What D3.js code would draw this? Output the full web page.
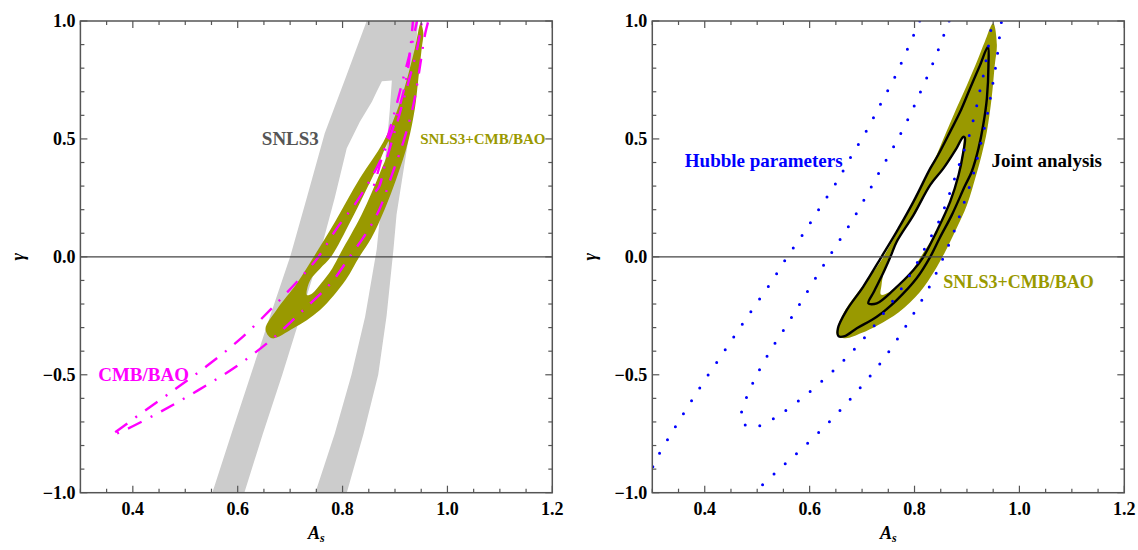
<!DOCTYPE html>
<html>
<head>
<meta charset="utf-8">
<script src="https://cdn.jsdelivr.net/npm/d3@7"></script>
<style>
body{margin:0;background:#fff}
svg text{font-family:"Liberation Serif","DejaVu Serif","Noto Serif","Times New Roman",Times,serif;font-weight:bold}
</style>
</head>
<body>
<svg id="chart"></svg>
<script>
// ---- data (A_s, gamma) ----
const xMajor = [0.4, 0.6, 0.8, 1.0, 1.2]
const xMinor = d3.range(0.3, 1.2001, 0.05)
const yMajor = [-1.0, -0.5, 0.0, 0.5, 1.0]
const yMinor = d3.range(-1.0, 1.0001, 0.1)

// SNLS3 (grey band, outer contour with a hole)
const snlsOuter = [[0.543,-1.06],[0.5516,-1.0],[0.588,-0.75],[0.625,-0.5],[0.662,-0.25],[0.70,0.0],[0.733,0.26],[0.766,0.524],[0.806,0.76],[0.846,1.0],[0.856,1.06],
    [0.948,1.06],[0.944,1.0],[0.935,0.75],[0.925,0.49],[0.903,0.18],[0.897,0.03],[0.884,-0.25],[0.868,-0.5],[0.84,-0.75],[0.808,-1.0],[0.80,-1.06]]
const snlsHole = [[0.604,-1.06],[0.6127,-1.0],[0.648,-0.75],[0.685,-0.5],[0.72,-0.25],[0.755,0.0],[0.785,0.25],[0.808,0.46],[0.833,0.573],[0.856,0.658],[0.865,0.70],[0.875,0.745],
    [0.894,0.748],[0.89,0.62],[0.885,0.5],[0.875,0.25],[0.865,0.03],[0.843,-0.254],[0.817,-0.5],[0.785,-0.75],[0.748,-1.0],[0.741,-1.06]]

// SNLS3+CMB/BAO, left panel
const comboLeftOuter = [[0.665,-0.345],[0.653,-0.306],[0.674,-0.225],[0.713,-0.112],[0.745,0.0],[0.786,0.15],[0.833,0.333],[0.878,0.488],[0.91,0.658],[0.938,0.884],[0.949,0.99],
    [0.954,0.95],[0.951,0.884],[0.944,0.743],[0.938,0.63],[0.925,0.488],[0.903,0.333],[0.88,0.2],[0.855,0.08],[0.832,0.0],[0.806,-0.098],[0.757,-0.225],[0.706,-0.303]]
const comboLeftHole = [[0.732,-0.162],[0.738,-0.10],[0.757,-0.05],[0.778,0.0],[0.815,0.15],[0.842,0.27],[0.866,0.38],[0.879,0.45],[0.888,0.49],
    [0.886,0.44],[0.872,0.36],[0.855,0.27],[0.836,0.177],[0.815,0.09],[0.797,0.02],[0.78,-0.05],[0.76,-0.11],[0.742,-0.155]]

// CMB/BAO contours (dash-dot)
const cmbOuter = [[0.935,1.02],[0.925,0.8],[0.913,0.672],[0.894,0.531],[0.871,0.403],[0.827,0.234],[0.789,0.121],[0.754,0.0],[0.719,-0.091],[0.662,-0.225],[0.604,-0.35],[0.541,-0.463],[0.474,-0.572],[0.41,-0.673],[0.375,-0.73],[0.36,-0.755],
    [0.385,-0.734],[0.455,-0.654],[0.525,-0.565],[0.595,-0.468],[0.662,-0.355],[0.722,-0.232],[0.779,-0.108],[0.812,-0.005],[0.845,0.1],[0.87,0.2],[0.894,0.347],[0.916,0.488],[0.935,0.644],[0.948,0.813],[0.957,0.94],[0.966,1.02]]
const cmbInner = [[0.944,1.02],[0.93,0.88],[0.915,0.75],[0.90,0.62],[0.885,0.5],[0.87,0.38],[0.858,0.272],
    [0.868,0.29],[0.882,0.4],[0.898,0.52],[0.913,0.64],[0.928,0.76],[0.942,0.88],[0.953,1.02]]

// SNLS3+CMB/BAO, right panel
const comboRightOuter = [[0.668,-0.345],[0.652,-0.33],[0.653,-0.30],[0.668,-0.225],[0.700,-0.127],[0.733,-0.027],[0.766,0.1],[0.798,0.23],[0.828,0.37],[0.842,0.432],[0.861,0.531],[0.88,0.63],[0.9,0.729],[0.919,0.828],[0.934,0.912],[0.950,0.99],
    [0.957,0.9],[0.953,0.813],[0.947,0.672],[0.938,0.531],[0.928,0.432],[0.918,0.35],[0.90,0.22],[0.88,0.12],[0.858,0.02],[0.838,-0.06],[0.81,-0.15],[0.77,-0.235],[0.73,-0.29],[0.70,-0.322]]
const comboRightHole = [[0.893,0.505],[0.878,0.455],[0.855,0.375],[0.83,0.305],[0.798,0.177],[0.766,0.064],[0.752,0.0],[0.742,-0.06],[0.737,-0.12],[0.736,-0.16],
    [0.752,-0.15],[0.772,-0.12],[0.795,-0.06],[0.812,0.0],[0.842,0.107],[0.868,0.234],[0.884,0.347],[0.891,0.44]]

// joint analysis (black)
const jointOuter = [[0.654,-0.303],[0.655,-0.336],[0.667,-0.336],[0.69,-0.303],[0.728,-0.254],[0.766,-0.183],[0.804,-0.091],[0.830,0.0],[0.848,0.08],[0.871,0.177],[0.896,0.30],[0.909,0.361],[0.922,0.46],[0.931,0.559],[0.938,0.672],[0.941,0.813],[0.94,0.891],
    [0.925,0.813],[0.906,0.715],[0.887,0.615],[0.868,0.531],[0.845,0.432],[0.830,0.375],[0.798,0.234],[0.766,0.107],[0.737,0.0],[0.702,-0.127],[0.671,-0.225]]
const jointInner = [[0.893,0.509],[0.88,0.46],[0.855,0.375],[0.83,0.305],[0.798,0.177],[0.766,0.064],[0.754,0.0],[0.740,-0.07],[0.722,-0.15],[0.712,-0.197],
    [0.728,-0.197],[0.760,-0.14],[0.798,-0.056],[0.817,0.0],[0.842,0.107],[0.868,0.234],[0.884,0.347],[0.892,0.432],[0.896,0.505]]

// Hubble parameters (blue dotted)
const hubbleOuterLeft = [[0.29,-0.95],[0.307,-0.861],[0.336,-0.75],[0.366,-0.642],[0.397,-0.533],[0.429,-0.427],[0.461,-0.321],[0.493,-0.216],[0.526,-0.11],[0.556,-0.004],[0.589,0.102],[0.62,0.21],[0.652,0.319],[0.68,0.429],[0.71,0.541],[0.736,0.651],[0.763,0.765],[0.787,0.883],[0.81,1.0]]
const hubbleOuterRight = [[0.489,-1.01],[0.535,-0.915],[0.577,-0.83],[0.619,-0.741],[0.659,-0.649],[0.697,-0.553],[0.734,-0.454],[0.767,-0.35],[0.798,-0.242],[0.827,-0.132],[0.852,-0.018],[0.874,0.1],[0.893,0.22],[0.912,0.35],[0.925,0.467],[0.938,0.594],[0.948,0.717],[0.957,0.84],[0.964,0.969],[0.966,1.0]]
const hubbleInner = [[0.866,1.0],[0.856,0.941],[0.835,0.82],[0.812,0.703],[0.788,0.586],[0.762,0.474],[0.734,0.364],[0.706,0.25],[0.677,0.139],[0.646,0.032],[0.615,-0.077],[0.585,-0.186],[0.555,-0.294],[0.524,-0.402],[0.496,-0.515],[0.474,-0.631],[0.469,-0.695],[0.49,-0.724],[0.517,-0.703],
    [0.542,-0.671],[0.587,-0.596],[0.631,-0.512],[0.672,-0.423],[0.71,-0.328],[0.746,-0.225],[0.779,-0.121],[0.808,-0.013],[0.823,0.05],[0.849,0.163],[0.868,0.276],[0.885,0.39],[0.896,0.46],[0.905,0.519],[0.912,0.58],[0.919,0.644],[0.925,0.707],[0.931,0.767],[0.94,0.88],[0.947,0.983],[0.948,1.0]]

// ---- drawing ----
const width = 1138, height = 550
const fontFam = '"Liberation Serif","DejaVu Serif","Noto Serif","Times New Roman",Times,serif'
const svg = d3.select('#chart').attr('width', width).attr('height', height)
    .attr('font-family', fontFam).attr('font-weight', 'bold')

const olive = '#999900'
const panelTop = 21, panelBottom = 492.7

function makePanel(id, left, right){
    const x = d3.scaleLinear().domain([0.3, 1.2]).range([left, right])
    const y = d3.scaleLinear().domain([-1, 1]).range([panelBottom, panelTop])
    const g = svg.append('g')
    g.append('clipPath').attr('id', id)
        .append('rect').attr('x', left).attr('y', panelTop).attr('width', right-left).attr('height', panelBottom-panelTop)
    const plot = g.append('g').attr('clip-path', `url(#${id})`)
    return {x, y, g, plot}
}

function ring(p, pts, curve){
    return d3.line().x(d=>p.x(d[0])).y(d=>p.y(d[1])).curve(curve)(pts)
}
const closedCurve = d3.curveCatmullRomClosed.alpha(0.5)
const openCurve = d3.curveCatmullRom.alpha(0.5)

function frame(p){
    const [x0, x1] = p.x.range(), [y0, y1] = p.y.range()
    // zero line
    p.g.append('line').attr('x1', x0).attr('x2', x1).attr('y1', p.y(0)).attr('y2', p.y(0))
        .attr('stroke', '#444').attr('stroke-width', 1.2)
    const ax = p.g.append('g').attr('stroke', '#555').attr('stroke-width', 1.2)
    ax.append('rect').attr('x', x0).attr('y', y1).attr('width', x1-x0).attr('height', y0-y1)
        .attr('fill', 'none').attr('stroke-width', 1.5)
    const isMajor = (v, arr) => arr.some(m => Math.abs(m-v) < 1e-6)
    xMinor.forEach(v=>{
        const len = isMajor(v, xMajor) ? 7 : 4
        ax.append('line').attr('x1', p.x(v)).attr('x2', p.x(v)).attr('y1', y0).attr('y2', y0-len)
        ax.append('line').attr('x1', p.x(v)).attr('x2', p.x(v)).attr('y1', y1).attr('y2', y1+len)
    })
    yMinor.forEach(v=>{
        const len = isMajor(v, yMajor) ? 7 : 4
        ax.append('line').attr('y1', p.y(v)).attr('y2', p.y(v)).attr('x1', x0).attr('x2', x0+len)
        ax.append('line').attr('y1', p.y(v)).attr('y2', p.y(v)).attr('x1', x1).attr('x2', x1-len)
    })
    const fmt = d3.format('.1f')
    p.g.selectAll('.xl').data(xMajor).join('text')
        .attr('x', d=>p.x(d)).attr('y', y0+22).attr('text-anchor', 'middle')
        .attr('font-size', 18).text(fmt)
    p.g.selectAll('.yl').data(yMajor).join('text')
        .attr('x', x0-5).attr('y', d=>p.y(d)+6).attr('text-anchor', 'end')
        .attr('font-size', 18).text(fmt)
    const xt = p.g.append('text').attr('x', (x0+x1)/2).attr('y', 539).attr('text-anchor', 'middle')
        .attr('font-size', 18).attr('font-style', 'italic')
    xt.append('tspan').text('A')
    xt.append('tspan').attr('font-size', 12).attr('dy', 3).text('s')
    p.g.append('text').attr('transform', `translate(${x0-56},${p.y(0)}) rotate(-90)`)
        .attr('text-anchor', 'middle').attr('font-size', 18).attr('font-style', 'italic').text('γ')
}

function label(p, txt, a, gm, size, color){
    p.g.append('text').attr('x', p.x(a)).attr('y', p.y(gm))
        .attr('font-size', size).attr('fill', color).text(txt)
}

// left panel
const L = makePanel('clipL', 80.4, 552.3)
L.plot.append('path').attr('d', ring(L, snlsOuter, d3.curveLinear) + ring(L, snlsHole, d3.curveLinear))
    .attr('fill', '#cccccc').attr('fill-rule', 'evenodd')
L.plot.append('path').attr('d', ring(L, comboLeftOuter, closedCurve) + ring(L, comboLeftHole, closedCurve))
    .attr('fill', olive).attr('fill-rule', 'evenodd')
;[cmbOuter, cmbInner].forEach(c=>{
    L.plot.append('path').attr('d', ring(L, c, openCurve))
        .attr('fill', 'none').attr('stroke', '#ff00ff').attr('stroke-width', 2.4)
        .attr('stroke-dasharray', '15 10 2 10')
})
frame(L)
label(L, 'SNLS3', 0.646, 0.474, 19, '#555555')
label(L, 'SNLS3+CMB/BAO', 0.948, 0.478, 15, olive)
label(L, 'CMB/BAO', 0.334, -0.525, 19, '#ff00ff')

// right panel
const R = makePanel('clipR', 652.3, 1124.3)
R.plot.append('path').attr('d', ring(R, comboRightOuter, closedCurve) + ring(R, comboRightHole, closedCurve))
    .attr('fill', olive).attr('fill-rule', 'evenodd')
;[jointOuter, jointInner].forEach(c=>{
    R.plot.append('path').attr('d', ring(R, c, closedCurve))
        .attr('fill', 'none').attr('stroke', '#000').attr('stroke-width', 2.4)
})
;[hubbleOuterLeft, hubbleOuterRight, hubbleInner].forEach(c=>{
    R.plot.append('path').attr('d', ring(R, c, openCurve))
        .attr('fill', 'none').attr('stroke', '#0000ff').attr('stroke-width', 3)
        .attr('stroke-linecap', 'round').attr('stroke-dasharray', '0 15.3')
})
frame(R)
label(R, 'Hubble parameters', 0.362, 0.382, 19, '#0000ff')
label(R, 'Joint analysis', 0.947, 0.382, 19, '#000')
label(R, 'SNLS3+CMB/BAO', 0.855, -0.131, 18, olive)
</script>
</body>
</html>
